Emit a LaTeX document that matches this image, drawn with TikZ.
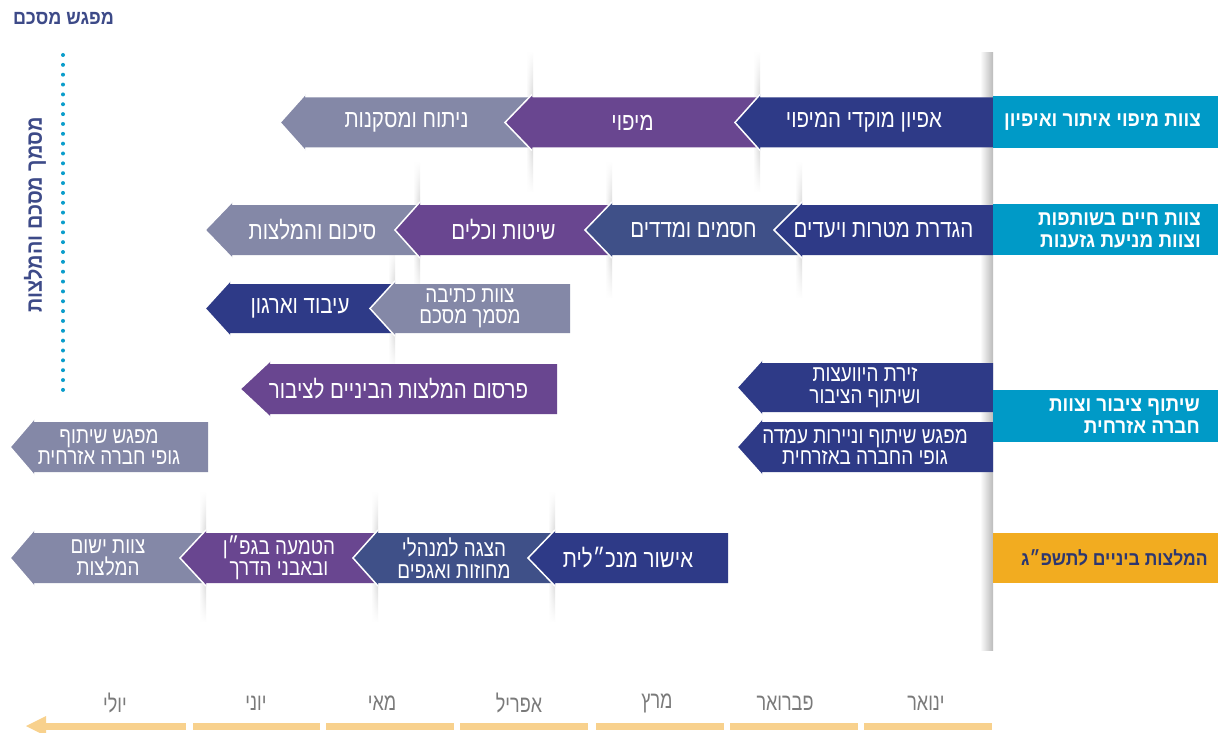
\documentclass[tikz,border=0pt]{standalone}
\usepackage{fontspec}
\usetikzlibrary{fadings}
\TeXXeTstate=1
\newfontfamily\hebfont[Script=Hebrew,FakeStretch=0.82]{Liberation Sans}
\newfontfamily\hebmonth[Script=Hebrew,FakeStretch=0.75]{Liberation Sans}
\newfontfamily\hebbold[Script=Hebrew,FakeStretch=0.9]{Liberation Sans Bold}
\newcommand\hb[1]{\beginR #1\endR}
\definecolor{cDark}{HTML}{2E3A87}
\definecolor{cSlate}{HTML}{3F5088}
\definecolor{cPurp}{HTML}{694690}
\definecolor{cGray}{HTML}{8488A7}
\definecolor{cCyan}{HTML}{009AC7}
\definecolor{cOrange}{HTML}{F2AC20}
\definecolor{cTitle}{HTML}{3D4A88}
\definecolor{cBar}{HTML}{F8D18D}
\definecolor{cMonth}{HTML}{7A7A7A}
\definecolor{cDot}{HTML}{0A9DCB}
\definecolor{cOrText}{HTML}{2D3770}
\tikzfading[name=vfade, top color=transparent!100, bottom color=transparent!100, middle color=transparent!0]
\tikzset{
  arrtext/.style={text=white, font=\hebfont\fontsize{25}{21}\selectfont, align=center, inner sep=0pt},
  arrtwo/.style={arrtext, font=\hebfont\fontsize{23}{21.5}\selectfont},
  lbl/.style={text=white, font=\hebbold\fontsize{21}{22}\selectfont, align=right, anchor=east, inner sep=0pt},
  lblbox/.style={fill=cCyan},
  month/.style={text=cMonth, font=\hebmonth\fontsize{24}{24}\selectfont, inner sep=0pt},
  heading/.style={text=cTitle, font=\hebbold\fontsize{20}{20}\selectfont, inner sep=0pt},
  shadowstrip/.style={left color=white, right color=black!24, path fading=vfade},
}
% #1 name, #2 tip x, #3 head base x, #4 right x, #5 top y, #6 bottom y, #7 colour, #8 text style, #9 text
\newcommand\arw[9]{%
  \pgfmathsetmacro\mymid{(#5+#6)/2}%
  \pgfmathsetmacro\mycx{(#2+#4)/2}%
  \fill[#7] (#4,#5) -- (#3,#5) -- (#3,#5-3) -- (#2,\mymid) -- (#3,#6+3) -- (#3,#6) -- (#4,#6) -- cycle;
  \draw[white,line width=1.5pt,line join=miter] (#3,#5-3) -- (#2,\mymid) -- (#3,#6+3);
  \node[#8] (#1) at (\mycx,\mymid) {#9};
}
\newcommand\shstrip[3]{\shade[shadowstrip] (#1-7,#2) rectangle (#1,#3);}
\begin{document}
\begin{tikzpicture}[x=1pt,y=-1pt]
\useasboundingbox[fill=white] (0,0) rectangle (1218,733);
% shadows
\shstrip{760}{52}{192}
\shstrip{533}{52}{192}
\shstrip{802}{162}{298}
\shstrip{612}{162}{298}
\shstrip{420}{162}{298}
\shstrip{395}{248}{368}
\shstrip{555}{492}{622}
\shstrip{378}{492}{622}
\shstrip{206}{492}{622}
\shade[left color=white, right color=black!27] (980,53) rectangle (993,650);
% title and dotted line
\node[heading] (title) at (63.5,19) {\hb{מפגש מסכם}};
\draw[cDot, line width=4pt, line cap=round, dash pattern=on 0pt off 9.85pt] (63,55) -- (63,392);
\node[heading, font=\hebbold\fontsize{22}{22}\selectfont, rotate=90] (vtext) at (35,215) {\hb{מסמך מסכם והמלצות}};
% row 1
\arw{r1a}{280}{305}{533}{97.5}{147.5}{cGray}{arrtext}{\hb{ניתוח ומסקנות}}
\arw{r1b}{505}{532}{760}{97.5}{147.5}{cPurp}{arrtext}{\hb{מיפוי}}
\arw{r1c}{735}{760}{993}{97.5}{147.5}{cDark}{arrtext}{\hb{אפיון מוקדי המיפוי}}
% row 2
\arw{r2a}{205}{232}{420}{205}{255}{cGray}{arrtext}{\hb{סיכום והמלצות}}
\arw{r2b}{395}{420}{612}{205}{255}{cPurp}{arrtext}{\hb{שיטות וכלים}}
\arw{r2c}{585}{612}{802}{205}{255}{cSlate}{arrtext}{\hb{חסמים ומדדים}}
\arw{r2d}{774}{802}{993}{205}{255}{cDark}{arrtext}{\hb{הגדרת מטרות ויעדים}}
% row 3
\arw{r3a}{205}{230}{395}{284}{333}{cDark}{arrtext}{\hb{עיבוד וארגון}}
\arw{r3b}{370}{395}{570}{284}{333}{cGray}{arrtwo}{\hb{צוות כתיבה}\\\hb{מסמך מסכם}}
% row 4
\arw{r4a}{240}{270}{557}{364}{414}{cPurp}{arrtext}{\hb{פרסום המלצות הביניים לציבור}}
\arw{r4b}{737}{762}{993}{363}{412}{cDark}{arrtwo}{\hb{זירת היוועצות}\\\hb{ושיתוף הציבור}}
% row 5
\arw{r5a}{10}{34}{208}{422}{472}{cGray}{arrtwo}{\hb{מפגש שיתוף}\\\hb{גופי חברה אזרחית}}
\arw{r5b}{737}{762}{993}{422}{472}{cDark}{arrtwo}{\hb{מפגש שיתוף וניירות עמדה}\\\hb{גופי החברה באזרחית}}
% row 6
\arw{r6a}{10}{34}{206}{533}{583}{cGray}{arrtwo}{\hb{צוות ישום}\\\hb{המלצות}}
\arw{r6b}{180}{206}{378}{533}{583}{cPurp}{arrtwo}{\hb{הטמעה בגפ״ן}\\\hb{ובאבני הדרך}}
\arw{r6c}{353}{378}{555}{533}{583}{cSlate}{arrtwo}{\hb{הצגה למנהלי}\\\hb{מחוזות ואגפים}}
\arw{r6d}{528}{555}{728}{533}{583}{cDark}{arrtext}{\hb{אישור מנכ״לית}}
% label boxes
\fill[lblbox] (993,96) rectangle (1218,148);
\node[lbl] (l1) at (1201,122) {\hb{צוות מיפוי איתור ואיפיון}};
\fill[lblbox] (993,204) rectangle (1218,255);
\node[lbl] (l2) at (1201,230) {\hb{צוות חיים בשותפות}\\\hb{וצוות מניעת גזענות}};
\fill[lblbox] (993,390) rectangle (1218,442);
\node[lbl] (l3) at (1200,416) {\hb{שיתוף ציבור וצוות}\\\hb{חברה אזרחית}};
\fill[cOrange] (993,533) rectangle (1218,583);
\node[lbl, text=cOrText, font=\hebbold\fontsize{19.5}{22}\selectfont] (l4) at (1208,558) {\hb{המלצות ביניים לתשפ״ג}};
% timeline bar
\fill[cBar] (864,722.5) rectangle (992,729.5);
\fill[cBar] (730,722.5) rectangle (858,729.5);
\fill[cBar] (596,722.5) rectangle (724,729.5);
\fill[cBar] (460,722.5) rectangle (588,729.5);
\fill[cBar] (326,722.5) rectangle (454,729.5);
\fill[cBar] (193,722.5) rectangle (320,729.5);
\fill[cBar] (186,722.5) rectangle (42,729.5);
\fill[cBar] (46,716) -- (26,726) -- (46,736) -- cycle;
\node[month] (m1) at (926,703) {\hb{ינואר}};
\node[month] (m2) at (785,703) {\hb{פברואר}};
\node[month] (m3) at (657,703) {\hb{מרץ}};
\node[month] (m4) at (519,703) {\hb{אפריל}};
\node[month] (m5) at (382,703) {\hb{מאי}};
\node[month] (m6) at (256,703) {\hb{יוני}};
\node[month] (m7) at (115,703) {\hb{יולי}};
\end{tikzpicture}
\end{document}
